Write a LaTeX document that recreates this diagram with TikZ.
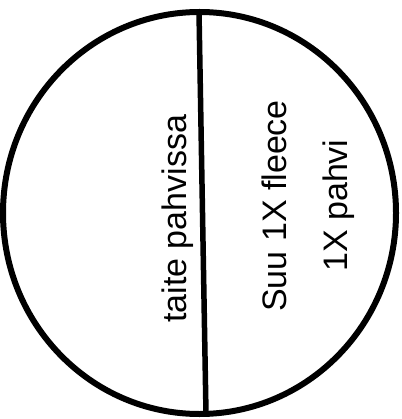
\documentclass[tikz,border=0pt]{standalone}
\usepackage{fontspec}
\setmainfont{Liberation Sans}
\begin{document}
\begin{tikzpicture}[x=1pt,y=-1pt,
  outline/.style={line width=6pt, line join=round},
  divider/.style={line width=5.5pt, line cap=butt},
  lbl/.style={rotate=90, anchor=base west, inner sep=0pt, font=\fontsize{34}{40}\selectfont}]
\useasboundingbox (0,0) rectangle (401,419);
\draw[outline] (199.5,213) ellipse [x radius=196.5, y radius=201];
\coordinate (top) at (199,12);
\coordinate (bot) at (206,414);
\draw[divider] (top) -- (bot);
\node[lbl] (taite) at (186,323) {taite pahvissa};
\node[lbl] (suu) at (286,312) {Suu 1X fleece};
\node[lbl] (pahvi) at (347,272) {1X pahvi};
\end{tikzpicture}
\end{document}
